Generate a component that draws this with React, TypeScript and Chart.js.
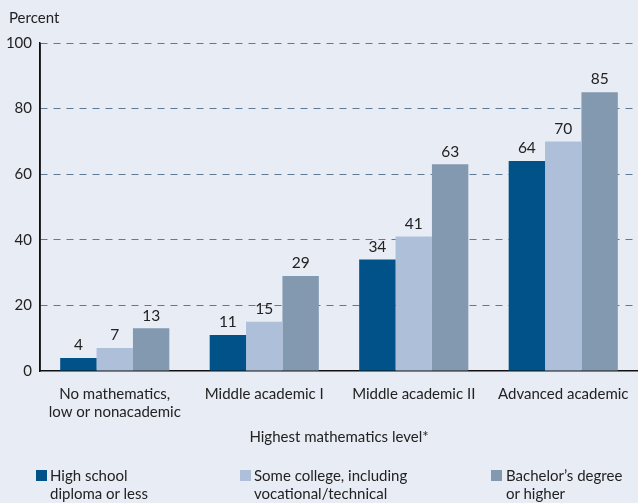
import React, { useEffect, useRef } from "react";
import { Chart, registerables } from "chart.js";

Chart.register(...registerables);

const categories = [
  ["No mathematics,", "low or nonacademic"],
  ["Middle academic I"],
  ["Middle academic II"],
  ["Advanced academic"],
];
const seriesNames = [
  ["High school", "diploma or less"],
  ["Some college, including", "vocational/technical"],
  ["Bachelor\u2019s degree", "or higher"],
];
const highSchool = [4, 11, 34, 64];
const someCollege = [7, 15, 41, 70];
const bachelors = [13, 29, 63, 85];
const colors = ["#005288", "#adbfd9", "#8399b0"];
const yTicks = [0, 20, 40, 60, 80, 100];

const FONT = "Lato, 'Noto Sans', sans-serif";
const BG = "#e8ecf4";

export default function App() {
  const ref = useRef<HTMLCanvasElement | null>(null);
  useEffect(() => {
    document.body.style.margin = "0";
    const labelPlugin = {
      id: "valueLabels",
      afterDatasetsDraw(chart: any) {
        const ctx = chart.ctx;
        ctx.save();
        ctx.font = `15.5px ${FONT}`;
        ctx.fillStyle = "#222";
        ctx.textAlign = "center";
        ctx.textBaseline = "bottom";
        chart.data.datasets.forEach((ds: any, i: number) => {
          const meta = chart.getDatasetMeta(i);
          meta.data.forEach((bar: any, j: number) => {
            ctx.fillText(String(ds.data[j]), bar.x, bar.y - 5);
          });
        });
        ctx.restore();
      },
    };
    const chart = new Chart(ref.current!, {
      type: "bar",
      data: {
        labels: categories,
        datasets: [highSchool, someCollege, bachelors].map((d, i) => ({
          label: seriesNames[i].join(" "),
          data: d,
          backgroundColor: colors[i],
          borderWidth: 0,
          categoryPercentage: 0.73,
          barPercentage: 1,
        })),
      },
      options: {
        responsive: false,
        animation: false,
        layout: { padding: { top: 43, right: 0, left: 0, bottom: 0 } },
        plugins: { legend: { display: false }, tooltip: { enabled: false } },
        scales: {
          x: {
            grid: { display: false },
            border: { display: true, color: "#111", width: 1.5 },
            ticks: {
              font: { family: FONT, size: 15 },
              color: "#222",
              padding: 6,
              maxRotation: 0,
            },
            afterFit: (s: any) => {
              s.height = 132;
            },
          },
          y: {
            min: 0,
            max: 100,
            afterBuildTicks: (s: any) => {
              s.ticks = yTicks.map((v) => ({ value: v }));
            },
            grid: {
              color: (c: any) => (c.tick && c.tick.value === 0 ? "rgba(0,0,0,0)" : "#5f7a95"),
              drawTicks: false,
              lineWidth: 1,
            },
            border: { display: true, color: "#111", width: 1.5, dash: [7, 6], dashOffset: 0 },
            ticks: {
              font: { family: FONT, size: 15 },
              color: "#222",
              padding: 8,
            },
            afterFit: (s: any) => {
              s.width = 40;
            },
          },
        },
      },
      plugins: [
        labelPlugin,
        {
          id: "solidYAxis",
          afterDraw(chart: any) {
            const { ctx, chartArea } = chart;
            ctx.save();
            ctx.strokeStyle = "#111";
            ctx.lineWidth = 1.5;
            ctx.beginPath();
            ctx.moveTo(chartArea.left, chartArea.top);
            ctx.lineTo(chartArea.left, chartArea.bottom);
            ctx.stroke();
            ctx.restore();
          },
        },
      ],
    } as any);
    return () => chart.destroy();
  }, []);

  const legendItem = (i: number, sqX: number, textX: number, sqY: number) => (
    <div key={i}>
      <div
        style={{
          position: "absolute",
          left: sqX,
          top: sqY,
          width: 11,
          height: 11,
          background: colors[i],
        }}
      />
      <div
        style={{
          position: "absolute",
          left: textX,
          top: 466,
          fontFamily: FONT,
          fontSize: 15,
          lineHeight: "18px",
          color: "#222",
          whiteSpace: "nowrap",
        }}
      >
        {seriesNames[i][0]}
        <br />
        {seriesNames[i][1]}
      </div>
    </div>
  );

  return (
    <div style={{ position: "relative", width: 638, height: 503, background: BG, overflow: "hidden" }}>
      <canvas ref={ref} width={638} height={503} style={{ position: "absolute", left: 0, top: 0 }} />
      <div
        style={{
          position: "absolute",
          left: 9,
          top: 8,
          fontFamily: FONT,
          fontSize: 15,
          color: "#222",
        }}
      >
        Percent
      </div>
      <div
        style={{
          position: "absolute",
          left: 40,
          width: 598,
          top: 427,
          textAlign: "center",
          fontFamily: FONT,
          fontSize: 15,
          color: "#222",
        }}
      >
        Highest mathematics level*
      </div>
      {legendItem(0, 36, 50, 470)}
      {legendItem(1, 240, 254, 470)}
      {legendItem(2, 491, 506, 470)}
    </div>
  );
}
